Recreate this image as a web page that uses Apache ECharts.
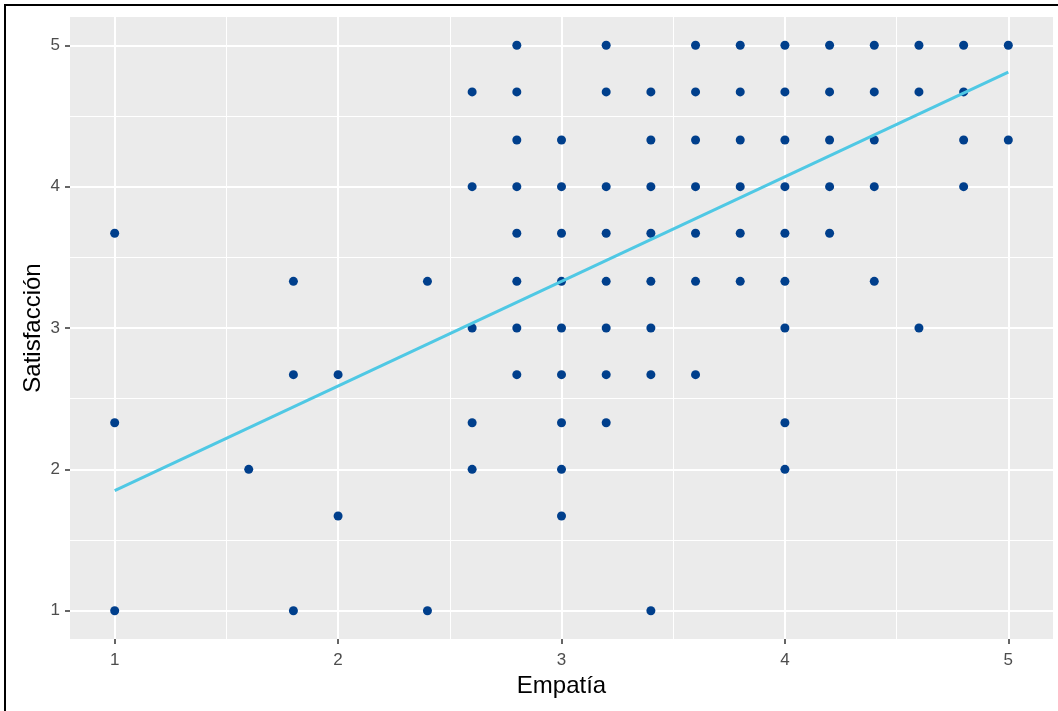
<!DOCTYPE html>
<html>
<head>
<meta charset="utf-8">
<title>Empatía vs Satisfacción</title>
<script src="https://cdn.jsdelivr.net/npm/echarts@6/dist/echarts.min.js"></script>
<style>
  html, body { margin: 0; padding: 0; background: #ffffff; }
  #chart { width: 1058px; height: 711px; }
</style>
</head>
<body>
<div id="chart"></div>
<script>
// Observations: empathy score (x) and satisfaction score (y)
const empatia = [
  1, 1, 1,
  1.6,
  1.8, 1.8, 1.8,
  2, 2,
  2.4, 2.4,
  2.6, 2.6, 2.6, 2.6, 2.6,
  2.8, 2.8, 2.8, 2.8, 2.8, 2.8, 2.8, 2.8,
  3, 3, 3, 3, 3, 3, 3, 3, 3,
  3.2, 3.2, 3.2, 3.2, 3.2, 3.2, 3.2, 3.2,
  3.4, 3.4, 3.4, 3.4, 3.4, 3.4, 3.4, 3.4,
  3.6, 3.6, 3.6, 3.6, 3.6, 3.6, 3.6,
  3.8, 3.8, 3.8, 3.8, 3.8, 3.8,
  4, 4, 4, 4, 4, 4, 4, 4, 4,
  4.2, 4.2, 4.2, 4.2, 4.2,
  4.4, 4.4, 4.4, 4.4, 4.4,
  4.6, 4.6, 4.6,
  4.8, 4.8, 4.8, 4.8,
  5, 5
];
const satisfaccion = [
  3.67, 2.33, 1,
  2,
  3.33, 2.67, 1,
  2.67, 1.67,
  3.33, 1,
  4.67, 4, 3, 2.33, 2,
  5, 4.67, 4.33, 4, 3.67, 3.33, 3, 2.67,
  4.33, 4, 3.67, 3.33, 3, 2.67, 2.33, 2, 1.67,
  5, 4.67, 4, 3.67, 3.33, 3, 2.67, 2.33,
  4.67, 4.33, 4, 3.67, 3.33, 3, 2.67, 1,
  5, 4.67, 4.33, 4, 3.67, 3.33, 2.67,
  5, 4.67, 4.33, 4, 3.67, 3.33,
  5, 4.67, 4.33, 4, 3.67, 3.33, 3, 2.33, 2,
  5, 4.67, 4.33, 4, 3.67,
  5, 4.67, 4.33, 4, 3.33,
  5, 4.67, 3,
  5, 4.67, 4.33, 4,
  5, 4.33
];

// Fitted linear trend, end points
const fitX = [1, 5];
const fitY = [1.85, 4.81];

// Axis ticks and panel grid positions
const xTicks = [1, 2, 3, 4, 5];
const yTicks = [1, 2, 3, 4, 5];
const xMinor = [1.5, 2.5, 3.5, 4.5];
const yMinor = [1.5, 2.5, 3.5, 4.5];

const points = empatia.map((x, i) => [x, satisfaccion[i]]);
const fitLine = fitX.map((x, i) => [x, fitY[i]]);

const gridLines = [
  ...xMinor.map(v => ({ xAxis: v, lineStyle: { width: 1 } })),
  ...yMinor.map(v => ({ yAxis: v, lineStyle: { width: 1 } })),
  ...xTicks.map(v => ({ xAxis: v, lineStyle: { width: 2 } })),
  ...yTicks.map(v => ({ yAxis: v, lineStyle: { width: 2 } }))
];

const FONT = '"Liberation Sans", Arial, sans-serif';

const chart = echarts.init(document.getElementById('chart'), null, { renderer: 'canvas' });

chart.setOption({
  animation: false,
  backgroundColor: '#ffffff',
  grid: {
    left: 70, right: 5, top: 17, bottom: 72,
    show: true, backgroundColor: '#EBEBEB', borderWidth: 0
  },
  xAxis: {
    type: 'value',
    min: 0.8, max: 5.2,
    name: 'Empatía',
    nameLocation: 'middle',
    nameGap: 35,
    nameMoveOverlap: false,
    nameTextStyle: { fontFamily: FONT, fontSize: 24, color: '#000000' },
    axisLine: { show: false },
    axisTick: { show: true, length: 5, customValues: xTicks, lineStyle: { color: '#333333', width: 1.5 } },
    axisLabel: { customValues: xTicks, margin: 13, fontFamily: FONT, fontSize: 17, color: '#4D4D4D' },
    splitLine: { show: false }
  },
  yAxis: {
    type: 'value',
    min: 0.8, max: 5.2,
    name: 'Satisfacción',
    nameLocation: 'middle',
    nameGap: 25,
    nameMoveOverlap: false,
    nameRotate: 90,
    nameTextStyle: { fontFamily: FONT, fontSize: 24, color: '#000000' },
    axisLine: { show: false },
    axisTick: { show: true, length: 5, customValues: yTicks, lineStyle: { color: '#333333', width: 1.5 } },
    axisLabel: { customValues: yTicks, margin: 10, fontFamily: FONT, fontSize: 17, color: '#4D4D4D' },
    splitLine: { show: false }
  },
  series: [
    {
      // panel grid lines, kept beneath the marks
      type: 'scatter',
      data: [],
      z: 1,
      silent: true,
      markLine: {
        z: 1,
        silent: true,
        symbol: ['none', 'none'],
        label: { show: false },
        lineStyle: { color: '#FFFFFF', type: 'solid' },
        data: gridLines
      }
    },
    {
      type: 'scatter',
      data: points,
      symbol: 'circle',
      symbolSize: 9,
      z: 6,
      itemStyle: { color: '#003F8C', opacity: 1 }
    },
    {
      type: 'line',
      data: fitLine,
      symbol: 'none',
      z: 7,
      lineStyle: { color: '#4FC8E4', width: 3 }
    }
  ],
  graphic: [
    { type: 'line', shape: { x1: 4, y1: 5, x2: 1058, y2: 5 }, style: { stroke: '#000000', lineWidth: 2 }, z: 100 },
    { type: 'line', shape: { x1: 5, y1: 4, x2: 5, y2: 711 }, style: { stroke: '#000000', lineWidth: 2 }, z: 100 }
  ]
});
</script>
</body>
</html>
